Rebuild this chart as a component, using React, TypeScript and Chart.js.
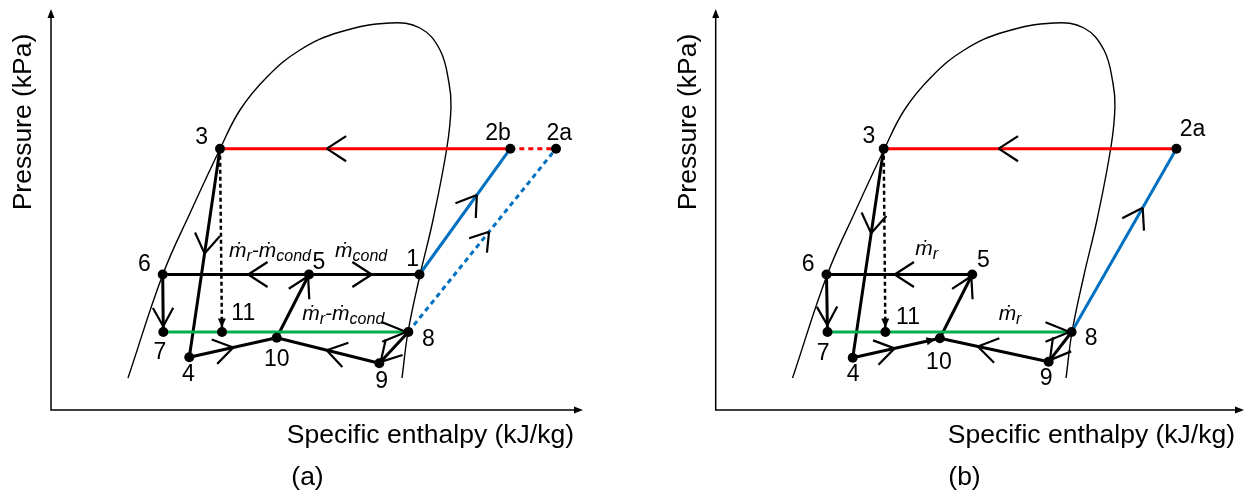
import React, { useEffect, useRef } from 'react';
import { Chart, registerables } from 'chart.js';

Chart.register(...registerables);

// ---------- data (arbitrary enthalpy / pressure units) ----------
// Saturation dome, shared by both panels
const DOME_H = [77, 112, 140, 169, 189, 216, 249, 289, 339, 369, 389, 398, 400, 396, 382, 369, 357, 351];
const DOME_P = [32, 136, 199, 261, 300, 333, 360, 378, 387, 382, 360, 327, 303, 263, 190, 135, 78, 32];

// Panel (a) state points
const POINTS_A = ['1', '2a', '2b', '3', '4', '5', '6', '7', '8', '9', '10', '11'];
const H_A = [368.5, 505, 459.3, 169, 138.3, 258, 111.7, 112.3, 357.3, 328.3, 225.7, 171];
const P_A = [135.5, 261.3, 261.3, 261.3, 52.7, 135.5, 135.5, 78, 78, 46.7, 72.3, 78];

// Panel (b) state points
const POINTS_B = ['2a', '3', '4', '5', '6', '7', '8', '9', '10', '11'];
const H_B = [461.6, 168.3, 137.3, 257, 111, 112, 356.6, 333.6, 224.6, 170];
const P_B = [261.3, 261.3, 52.3, 135.5, 135.5, 78, 78, 48.3, 71.7, 78];

const X_TITLE = 'Specific enthalpy (kJ/kg)';
const Y_TITLE = 'Pressure (kPa)';
const PANEL_TITLES = ['(a)', '(b)'];

const RED = '#ff0000';
const BLUE = '#0070c0';
const GREEN = '#00b050';
const BLACK = '#000000';
const FONT = '"Liberation Sans", Arial, Helvetica, sans-serif';

type Seg = { path: string[]; color: string; width: number; dash?: number[] };
type Chev = { from: string; to: string; t: number; len?: number; ang?: number };
type Flow = { anchor: string; dx: number; dy: number; parts: [string, boolean][] };

interface PanelCfg {
  names: string[];
  H: number[];
  P: number[];
  canvasLeft: number;
  canvasWidth: number;
  padL: number;
  padR: number;
  xMax: number;
  lines: Seg[];
  chevrons: Chev[];
  heads: Chev[];
  smallHeads: Chev[];
  labelOffsets: Record<string, [number, number]>;
  flows: Flow[];
  title: string;
  titleX: number;
  yTitleDx: number;
}

const MR_MC: [string, boolean][] = [['ṁ', false], ['r', true], ['-', false], ['ṁ', false], ['cond', true]];
const MC: [string, boolean][] = [['ṁ', false], ['cond', true]];
const MR: [string, boolean][] = [['ṁ', false], ['r', true]];

const PANEL_A: PanelCfg = {
  names: POINTS_A,
  H: H_A,
  P: P_A,
  canvasLeft: 0,
  canvasWidth: 664,
  padL: 51,
  padR: 81,
  xMax: 532,
  lines: [
    { path: ['3', '2b'], color: RED, width: 3 },
    { path: ['2b', '2a'], color: RED, width: 3, dash: [5, 4] },
    { path: ['1', '2b'], color: BLUE, width: 3 },
    { path: ['8', '2a'], color: BLUE, width: 3, dash: [5, 4] },
    { path: ['6', '5', '1'], color: BLACK, width: 3 },
    { path: ['6', '7'], color: BLACK, width: 3 },
    { path: ['7', '8'], color: GREEN, width: 3 },
    { path: ['3', '11'], color: BLACK, width: 2.5, dash: [4, 3] },
    { path: ['3', '4', '10', '5'], color: BLACK, width: 3 },
    { path: ['8', '9', '10'], color: BLACK, width: 3 },
  ],
  chevrons: [
    { from: '2b', to: '3', t: 0.632 },
    { from: '5', to: '6', t: 0.415 },
    { from: '5', to: '1', t: 0.567 },
    { from: '6', to: '7', t: 0.9, len: 21, ang: 29 },
    { from: '3', to: '4', t: 0.502 },
    { from: '4', to: '10', t: 0.503 },
    { from: '9', to: '10', t: 0.513 },
    { from: '1', to: '2b', t: 0.632 },
    { from: '8', to: '2a', t: 0.547, len: 21 },
  ],
  heads: [
    { from: '10', to: '5', t: 1 },
    { from: '8', to: '9', t: 1 },
    { from: '7', to: '8', t: 1, len: 26, ang: 22 },
  ],
  smallHeads: [{ from: '3', to: '11', t: 1 }],
  labelOffsets: {
    '3': [-18.3, -11.2], '2b': [-12.3, -14.7], '2a': [3.3, -14.7], '6': [-18.4, -10.3],
    '5': [10, -12.3], '1': [-6.8, -15.2], '11': [21.3, -18.5], '7': [-3.3, 20.7],
    '8': [20, 7.3], '4': [-1, 17.7], '10': [0, 21.6], '9': [2.4, 18.4],
  },
  flows: [
    { anchor: '5', dx: -80, dy: -17.5, parts: MR_MC },
    { anchor: '5', dx: 26, dy: -17.5, parts: MC },
    { anchor: '8', dx: -106, dy: -12, parts: MR_MC },
  ],
  title: PANEL_TITLES[0],
  titleX: 307.5,
  yTitleDx: -27.5,
};

const PANEL_B: PanelCfg = {
  names: POINTS_B,
  H: H_B,
  P: P_B,
  canvasLeft: 664,
  canvasWidth: 585,
  padL: 51.7,
  padR: 4,
  xMax: 529.3,
  lines: [
    { path: ['3', '2a'], color: RED, width: 3 },
    { path: ['8', '2a'], color: BLUE, width: 3 },
    { path: ['6', '5'], color: BLACK, width: 3 },
    { path: ['6', '7'], color: BLACK, width: 3 },
    { path: ['7', '8'], color: GREEN, width: 3 },
    { path: ['3', '11'], color: BLACK, width: 2.5, dash: [4, 3] },
    { path: ['3', '4', '10', '5'], color: BLACK, width: 3 },
    { path: ['8', '9', '10'], color: BLACK, width: 3 },
  ],
  chevrons: [
    { from: '2a', to: '3', t: 0.607 },
    { from: '5', to: '6', t: 0.532 },
    { from: '6', to: '7', t: 0.88, len: 21, ang: 29 },
    { from: '3', to: '4', t: 0.405 },
    { from: '4', to: '10', t: 0.48 },
    { from: '9', to: '10', t: 0.651 },
    { from: '8', to: '2a', t: 0.678 },
  ],
  heads: [
    { from: '10', to: '5', t: 1 },
    { from: '8', to: '9', t: 1 },
    { from: '7', to: '8', t: 1, len: 26, ang: 22 },
  ],
  smallHeads: [
    { from: '3', to: '11', t: 1 },
    { from: '4', to: '10', t: 1 },
  ],
  labelOffsets: {
    '3': [-14.7, -12], '2a': [16, -19], '6': [-18.4, -10.3], '5': [11.3, -14],
    '11': [22.6, -14.3], '7': [-4.4, 21.3], '8': [19.4, 6.3], '4': [0.3, 17.3],
    '10': [-1, 24.4], '9': [-2.6, 16.6],
  },
  flows: [
    { anchor: '5', dx: -57, dy: -19.7, parts: MR },
    { anchor: '8', dx: -73, dy: -12, parts: MR },
  ],
  title: PANEL_TITLES[1],
  titleX: 300.5,
  yTitleDx: -26.7,
};

// ---------- drawing helpers ----------
function rot(d: { x: number; y: number }, a: number) {
  const c = Math.cos(a), s = Math.sin(a);
  return { x: d.x * c - d.y * s, y: d.x * s + d.y * c };
}

function makeDecor(cfg: PanelCfg) {
  const pix = (chart: any, name: string) => {
    const i = cfg.names.indexOf(name);
    return {
      x: chart.scales.x.getPixelForValue(cfg.H[i]),
      y: chart.scales.y.getPixelForValue(cfg.P[i]),
    };
  };
  const dirOf = (chart: any, c: Chev) => {
    const a = pix(chart, c.from), b = pix(chart, c.to);
    const dx = b.x - a.x, dy = b.y - a.y;
    const L = Math.hypot(dx, dy);
    return { a, b, d: { x: dx / L, y: dy / L } };
  };
  return {
    id: 'decor',
    beforeDatasetsDraw(chart: any) {
      const ctx = chart.ctx as CanvasRenderingContext2D;
      const { left, right, top, bottom } = chart.chartArea;
      ctx.save();
      ctx.strokeStyle = BLACK;
      ctx.fillStyle = BLACK;
      ctx.lineWidth = 1.5;
      ctx.beginPath();
      ctx.moveTo(left, top + 7);
      ctx.lineTo(left, bottom);
      ctx.lineTo(right - 7, bottom);
      ctx.stroke();
      ctx.beginPath();
      ctx.moveTo(left, top);
      ctx.lineTo(left - 3.5, top + 9);
      ctx.lineTo(left + 3.5, top + 9);
      ctx.closePath();
      ctx.fill();
      ctx.beginPath();
      ctx.moveTo(right, bottom);
      ctx.lineTo(right - 9, bottom - 3.5);
      ctx.lineTo(right - 9, bottom + 3.5);
      ctx.closePath();
      ctx.fill();

      ctx.font = `26.5px ${FONT}`;
      ctx.textAlign = 'right';
      ctx.textBaseline = 'alphabetic';
      ctx.fillText(X_TITLE, right - 9, bottom + 33);
      ctx.save();
      ctx.translate(left + cfg.yTitleDx, top + 113);
      ctx.rotate(-Math.PI / 2);
      ctx.textAlign = 'center';
      ctx.textBaseline = 'middle';
      ctx.fillText(Y_TITLE, 0, 0);
      ctx.restore();
      ctx.textAlign = 'center';
      ctx.textBaseline = 'middle';
      ctx.fillText(cfg.title, cfg.titleX, 478);
      ctx.restore();
    },
    afterDatasetsDraw(chart: any) {
      const ctx = chart.ctx as CanvasRenderingContext2D;
      ctx.save();
      ctx.strokeStyle = BLACK;
      ctx.fillStyle = BLACK;
      ctx.lineWidth = 2.2;
      ctx.lineCap = 'butt';
      const drawV = (tip: { x: number; y: number }, d: { x: number; y: number }, len: number, angDeg: number) => {
        const a = (angDeg * Math.PI) / 180;
        ctx.beginPath();
        for (const s of [1, -1]) {
          const r = rot(d, s * a);
          ctx.moveTo(tip.x - len * r.x, tip.y - len * r.y);
          ctx.lineTo(tip.x, tip.y);
        }
        ctx.stroke();
      };
      for (const c of cfg.chevrons) {
        const { a, b, d } = dirOf(chart, c);
        const tip = { x: a.x + (b.x - a.x) * c.t, y: a.y + (b.y - a.y) * c.t };
        drawV(tip, d, c.len ?? 23, c.ang ?? 33);
      }
      for (const c of cfg.heads) {
        const { b, d } = dirOf(chart, c);
        const tip = { x: b.x - 2 * d.x, y: b.y - 2 * d.y };
        drawV(tip, d, c.len ?? 23, c.ang ?? 30);
      }
      for (const c of cfg.smallHeads) {
        const { b, d } = dirOf(chart, c);
        const tip = { x: b.x - 4.5 * d.x, y: b.y - 4.5 * d.y };
        const base = { x: tip.x - 9 * d.x, y: tip.y - 9 * d.y };
        const n = { x: -d.y, y: d.x };
        ctx.beginPath();
        ctx.moveTo(tip.x, tip.y);
        ctx.lineTo(base.x + 4 * n.x, base.y + 4 * n.y);
        ctx.lineTo(base.x - 4 * n.x, base.y - 4 * n.y);
        ctx.closePath();
        ctx.fill();
      }
      // state point numbers
      ctx.font = `23px ${FONT}`;
      ctx.textAlign = 'center';
      ctx.textBaseline = 'middle';
      for (const name of cfg.names) {
        const p = pix(chart, name);
        const off = cfg.labelOffsets[name] || [0, 0];
        ctx.fillText(name, p.x + off[0], p.y + off[1]);
      }
      // mass flow labels
      ctx.textAlign = 'left';
      ctx.textBaseline = 'alphabetic';
      for (const f of cfg.flows) {
        const p = pix(chart, f.anchor);
        let x = p.x + f.dx;
        const y = p.y + f.dy;
        for (const [txt, sub] of f.parts) {
          ctx.font = `italic ${sub ? 16 : 21}px ${FONT}`;
          ctx.fillText(txt, x, y + (sub ? 4 : 0));
          x += ctx.measureText(txt).width;
        }
      }
      ctx.restore();
    },
  };
}

function buildDatasets(cfg: PanelCfg) {
  const pt = (n: string) => {
    const i = cfg.names.indexOf(n);
    return { x: cfg.H[i], y: cfg.P[i] };
  };
  const ds: any[] = [];
  ds.push({
    data: cfg.names.map(pt),
    showLine: false,
    pointRadius: 5,
    pointBackgroundColor: BLACK,
    pointBorderWidth: 0,
  });
  for (const s of cfg.lines) {
    ds.push({
      data: s.path.map(pt),
      showLine: true,
      borderColor: s.color,
      borderWidth: s.width,
      borderDash: s.dash || [],
      borderJoinStyle: 'round',
      pointRadius: 0,
      tension: 0,
    });
  }
  ds.push({
    data: DOME_H.map((h, i) => ({ x: h, y: DOME_P[i] })),
    showLine: true,
    borderColor: BLACK,
    borderWidth: 1.4,
    pointRadius: 0,
    tension: 0.4,
  });
  return ds;
}

function Panel({ cfg }: { cfg: PanelCfg }) {
  const ref = useRef<HTMLCanvasElement | null>(null);
  useEffect(() => {
    if (!ref.current) return;
    const chart = new Chart(ref.current, {
      type: 'scatter',
      data: { datasets: buildDatasets(cfg) },
      options: {
        animation: false,
        responsive: false,
        maintainAspectRatio: false,
        events: [],
        layout: { padding: { left: cfg.padL, right: cfg.padR, top: 9, bottom: 90 } },
        scales: {
          x: { type: 'linear', min: 0, max: cfg.xMax, display: false },
          y: { type: 'linear', min: 0, max: 401, display: false },
        },
        plugins: { legend: { display: false }, tooltip: { enabled: false } },
      } as any,
      plugins: [makeDecor(cfg)],
    });
    return () => chart.destroy();
  }, [cfg]);
  return (
    <canvas
      ref={ref}
      width={cfg.canvasWidth}
      height={500}
      style={{ position: 'absolute', left: cfg.canvasLeft, top: 0, width: cfg.canvasWidth, height: 500 }}
    />
  );
}

export default function App() {
  return (
    <div style={{ position: 'absolute', left: 0, top: 0, width: 1249, height: 500, background: '#ffffff' }}>
      <Panel cfg={PANEL_A} />
      <Panel cfg={PANEL_B} />
    </div>
  );
}
